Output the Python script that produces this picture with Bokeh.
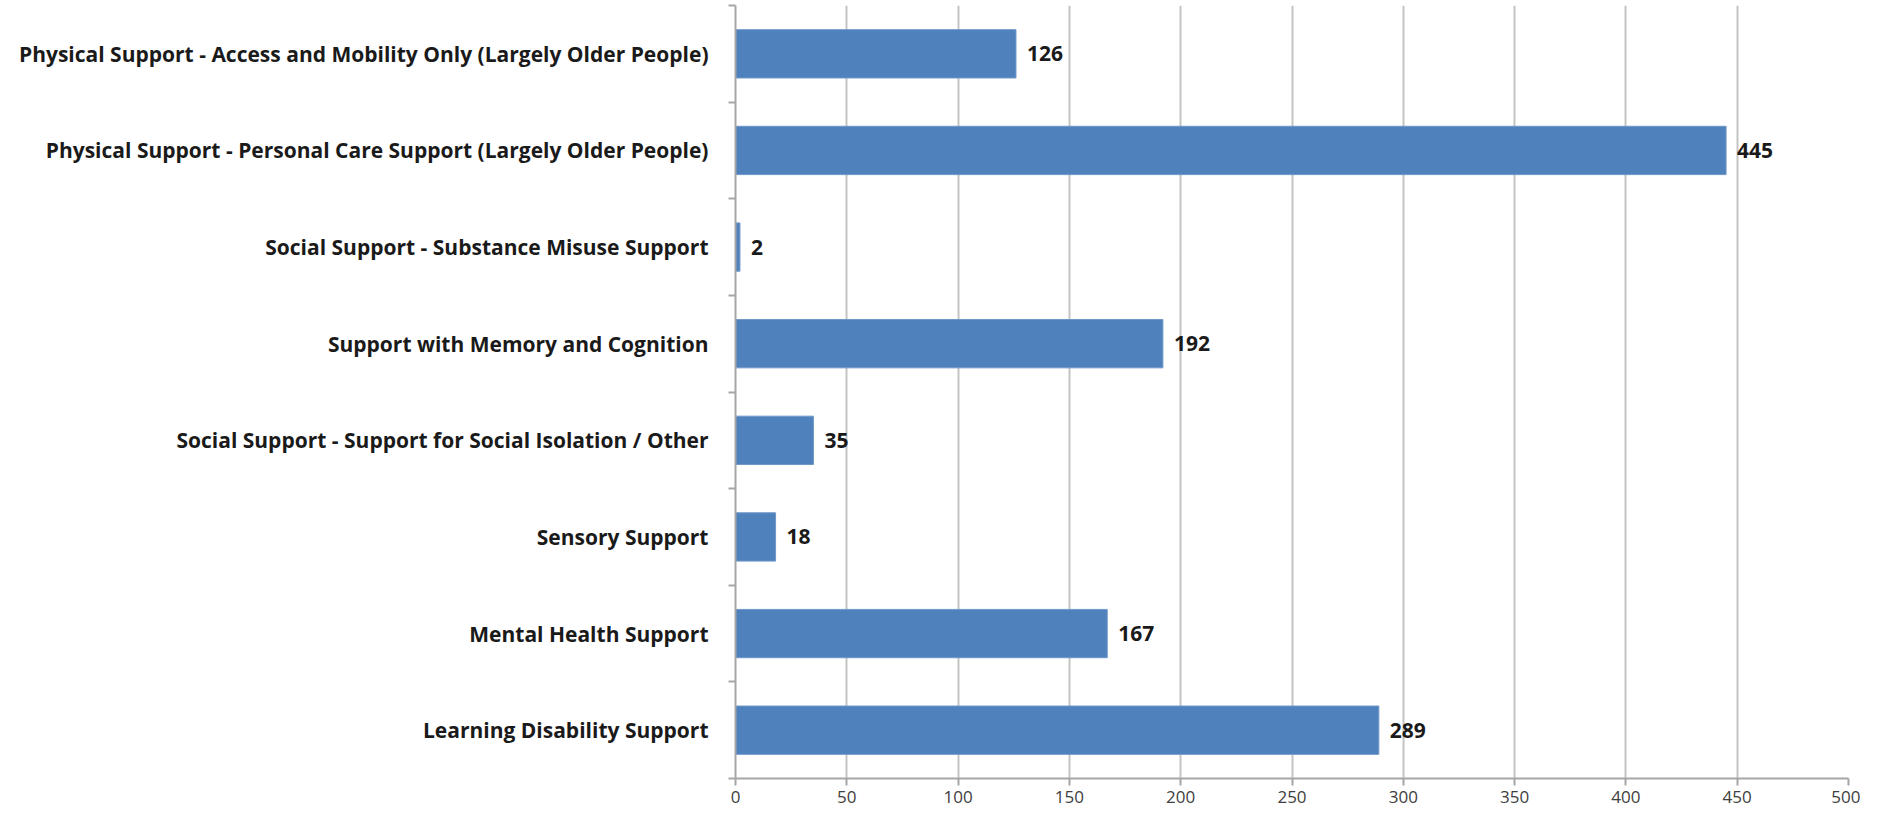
from bokeh.plotting import figure
from bokeh.models import ColumnDataSource, FixedTicker, Range1d
from bokeh.embed import file_html
from bokeh.resources import INLINE
from bokeh.core.properties import value

categories = [
    "Learning Disability Support",
    "Mental Health Support",
    "Sensory Support",
    "Social Support - Support for Social Isolation / Other",
    "Support with Memory and Cognition",
    "Social Support - Substance Misuse Support",
    "Physical Support - Personal Care Support (Largely Older People)",
    "Physical Support - Access and Mobility Only (Largely Older People)",
]
counts = [289, 167, 18, 35, 192, 2, 445, 126]
x_ticks = [0, 50, 100, 150, 200, 250, 300, 350, 400, 450, 500]

positions = [i + 0.5 for i in range(len(categories))]
src = ColumnDataSource(dict(y=positions, v=counts, lbl=[str(c) for c in counts]))

FONT = "Open Sans"

p = figure(width=1860, height=808, output_backend="svg", toolbar_location=None,
           x_range=Range1d(0, 500), y_range=Range1d(0, len(categories)),
           min_border_left=735, min_border_right=12, min_border_top=5, min_border_bottom=30)
p.outline_line_color = None
p.background_fill_color = "white"
p.border_fill_color = "white"

p.hbar(y="y", right="v", left=0, height=0.5, source=src,
       fill_color="#4F81BD", line_color="#6E97C8", line_width=1)
p.text(x="v", y="y", text="lbl", source=src, x_offset=11,
       text_align="left", text_baseline="middle",
       text_font=value(FONT), text_font_style="bold", text_font_size="21px",
       text_color="#1a1a1a")

# x axis
p.xaxis.ticker = FixedTicker(ticks=x_ticks)
p.xaxis.axis_line_color = "#a6a6a6"
p.xaxis.axis_line_width = 2
p.xaxis.major_tick_line_color = "#a6a6a6"
p.xaxis.major_tick_line_width = 2
p.xaxis.major_tick_in = 0
p.xaxis.major_tick_out = 7
p.xaxis.minor_tick_line_color = None
p.xaxis.major_label_text_font = FONT
p.xaxis.major_label_text_font_size = "17px"
p.xaxis.major_label_text_color = "#404040"
p.xaxis.major_label_standoff = 5

# y axis with category labels at centres and ticks at boundaries
p.yaxis.ticker = FixedTicker(ticks=positions, minor_ticks=list(range(len(categories) + 1)))
p.yaxis.major_label_overrides = {pos: c for pos, c in zip(positions, categories)}
p.yaxis.axis_line_color = "#a6a6a6"
p.yaxis.axis_line_width = 2
p.yaxis.major_tick_line_color = None
p.yaxis.major_tick_in = 0
p.yaxis.major_tick_out = 0
p.yaxis.minor_tick_line_color = "#a6a6a6"
p.yaxis.minor_tick_line_width = 2
p.yaxis.minor_tick_in = 0
p.yaxis.minor_tick_out = 7
p.yaxis.major_label_text_font = FONT
p.yaxis.major_label_text_font_style = "bold"
p.yaxis.major_label_text_font_size = "21px"
p.yaxis.major_label_text_color = "#1a1a1a"
p.yaxis.major_label_standoff = 20

p.xgrid.ticker = FixedTicker(ticks=x_ticks)
p.xgrid.grid_line_color = "#c4c4c4"
p.xgrid.grid_line_width = 2
p.ygrid.grid_line_color = None

open("out.html", "w").write(file_html(p, INLINE))
